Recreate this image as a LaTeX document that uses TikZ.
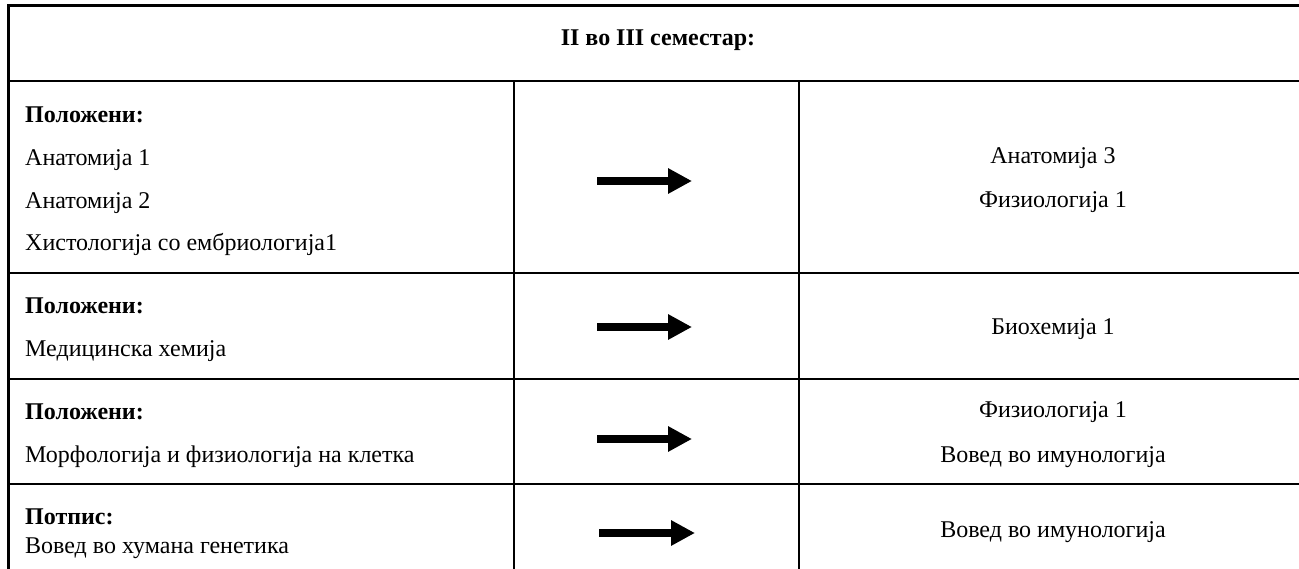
\documentclass[tikz,border=0pt]{standalone}
\usepackage{fontspec}
\setmainfont{Liberation Serif}
\usetikzlibrary{arrows.meta, positioning}

\begin{document}
\begin{tikzpicture}[x=1pt,y=-1pt,
        node distance=43pt,on grid,
        every node/.style={font=\fontsize{24}{28}\selectfont, inner sep=0pt, anchor=base},
        rule/.style={line width=2.8pt},
        lefttext/.style={anchor=base west},
        bigarrow/.style={line width=7.5pt, -{Triangle[length=24pt,width=24pt]}},
        ]
        \useasboundingbox (0,0) rectangle (1299,568);
        % table lines
        \draw[rule] (8.5,600) -- (8.5,5.5) -- (1310,5.5);
        \draw[rule] (8.5,81) -- (1310,81);
        \draw[rule] (8.5,273) -- (1310,273);
        \draw[rule] (8.5,379) -- (1310,379);
        \draw[rule] (8.5,484) -- (1310,484);
        \draw[rule] (514,81) -- (514,600);
        \draw[rule] (799,81) -- (799,600);

        \node (title) at (658,45) {\textbf{II во III семестар:}};

        % left column
        \node[lefttext] (pas1) at (25,122) {\textbf{Положени:}};
        \node (ana1) [below=of pas1.base west, lefttext] {Анатомија 1};
        \node (ana2) [below=of ana1.base west, lefttext] {Анатомија 2};
        \node (his1) [below=42pt of ana2.base west, lefttext] {Хистологија со ембриологија1};

        \node[lefttext] (pas2) at (25,313) {\textbf{Положени:}};
        \node (mhem) [below=of pas2.base west, lefttext] {Медицинска хемија};

        \node[lefttext] (pas3) at (25,419) {\textbf{Положени:}};
        \node (morf) [below=of pas3.base west, lefttext] {Морфологија и физиологија на клетка};

        \node[lefttext] (potp) at (25,524) {\textbf{Потпис:}};
        \node (gene) [below=29pt of potp.base west, lefttext] {Вовед во хумана генетика};

        % right column
        \node (ana3) at (1053,163) {Анатомија 3};
        \node (fiz1) [below=44pt of ana3.base, anchor=base] {Физиологија 1};
        \node (bioh) at (1053,334) {Биохемија 1};
        \node (fiz2) at (1053,417) {Физиологија 1};
        \node (imu1) [below=45pt of fiz2.base, anchor=base] {Вовед во имунологија};
        \node (imu2) at (1053,537) {Вовед во имунологија};

        % arrows
        \coordinate (s1) at (597,181);
        \coordinate (e1) at (692,181);
        \coordinate (s2) at (597,327);
        \coordinate (e2) at (692,327);
        \coordinate (s3) at (597,439);
        \coordinate (e3) at (692,439);
        \coordinate (s4) at (599,533);
        \coordinate (e4) at (695,533);
        \foreach \i in {1,...,4}
          \draw[bigarrow] (s\i) -- (e\i);
      \end{tikzpicture}
\end{document}
